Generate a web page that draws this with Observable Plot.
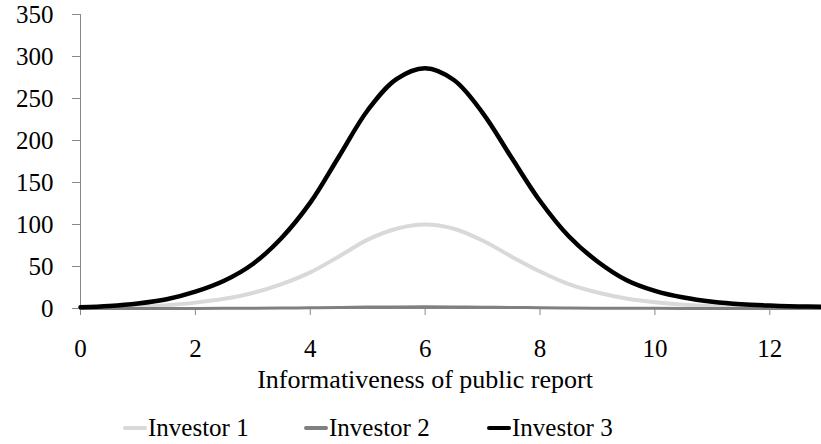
<!DOCTYPE html>
<html>
<head>
<meta charset="utf-8">
<script src="https://cdn.jsdelivr.net/npm/d3@7"></script>
<script src="https://cdn.jsdelivr.net/npm/@observablehq/plot@0.6"></script>
<style>
  body { margin: 0; background: #fff; }
  #wrap { width: 821px; font-family: "Liberation Serif", "Times New Roman", Tinos, "DejaVu Serif", serif; }
  #legend { position: relative; width: 821px; height: 39px; font-size: 25px; color: #000; }
  .item { position: absolute; top: 9px; display: flex; align-items: center; line-height: 28px; }
  .sw { width: 24px; height: 4px; margin-right: 1px; border-radius: 2px; }
</style>
</head>
<body>
<div id="wrap">
  <div id="chart"></div>
  <div id="legend"></div>
</div>
<script>
// Data
const xs        = [0, 0.5, 1, 1.5, 2, 2.5, 3, 3.5, 4, 4.5, 5, 5.5, 6, 6.5, 7, 7.5, 8, 8.5, 9, 9.5, 10, 10.5, 11, 11.5, 12, 12.5, 12.9];
const investor1 = [0.5, 1, 2, 4, 7, 11.5, 18.5, 29, 43, 62, 82, 95, 100, 95, 81, 62, 44, 29, 19, 12, 7.5, 4.5, 2.8, 1.8, 1.2, 0.8, 0.6];
const investor2 = [0, 0.02, 0.04, 0.08, 0.14, 0.23, 0.37, 0.58, 0.86, 1.26, 1.64, 1.9, 2, 1.9, 1.62, 1.26, 0.88, 0.58, 0.38, 0.24, 0.15, 0.09, 0.06, 0.04, 0.02, 0.02, 0.01];
const investor3 = [1.5, 3, 6, 11, 20, 33, 53, 84, 126, 181, 236, 273, 286, 272, 233, 180, 128, 86, 56, 34, 21, 13, 8, 5, 3.5, 2.5, 2];
const seriesNames = ["Investor 1", "Investor 2", "Investor 3"];
const seriesColors = ["#d9d9d9", "#808080", "#000000"];
const seriesWidths = [4, 3, 4.5];
const xTicks = [0, 2, 4, 6, 8, 10, 12];
const yTicks = [0, 50, 100, 150, 200, 250, 300, 350];
const xLabel = "Informativeness of public report";

const seriesValues = [investor1, investor2, investor3];
const rows = [];
seriesValues.forEach((vals, i) => vals.forEach((v, j) => rows.push({x: xs[j], y: v, s: seriesNames[i]})));

const serif = "'Liberation Serif', 'Times New Roman', Tinos, 'DejaVu Serif', serif";
const chart = Plot.plot({
  width: 821,
  height: 405,
  marginLeft: 80,
  marginRight: 0,
  marginTop: 14,
  marginBottom: 97,
  style: {fontFamily: serif, fontSize: "25px", color: "#000", background: "#fff"},
  x: {domain: [0, 12.9]},
  y: {domain: [0, 350]},
  marks: [
    Plot.axisY({ticks: yTicks, tickSize: 8, tickPadding: 19, stroke: "#888", fill: "#000", label: null, tickFormat: d => String(d), fontSize: 25}),
    Plot.axisX({ticks: xTicks, tickSize: 7, tickPadding: 24, stroke: "#888", fill: "#000", label: null, tickFormat: d => String(d), fontSize: 25}),
    Plot.ruleX([0], {stroke: "#888", strokeWidth: 1}),
    Plot.ruleY([0], {stroke: "#888", strokeWidth: 1}),
    ...seriesNames.map((name, i) =>
      Plot.line(rows.filter(r => r.s === name), {x: "x", y: "y", stroke: seriesColors[i], strokeWidth: seriesWidths[i], curve: "catmull-rom"})
    ),
    Plot.text([xLabel], {frameAnchor: "bottom", dy: 79, dx: -26, fill: "#000", fontSize: 26})
  ]
});
document.getElementById("chart").appendChild(chart);

const legend = document.getElementById("legend");
const lefts = [123, 304, 487];
seriesNames.forEach((name, i) => {
  const it = document.createElement("div");
  it.className = "item";
  it.style.left = lefts[i] + "px";
  const sw = document.createElement("span");
  sw.className = "sw";
  sw.style.background = seriesColors[i];
  const tx = document.createElement("span");
  tx.textContent = name;
  it.appendChild(sw);
  it.appendChild(tx);
  legend.appendChild(it);
});
</script>
</body>
</html>
